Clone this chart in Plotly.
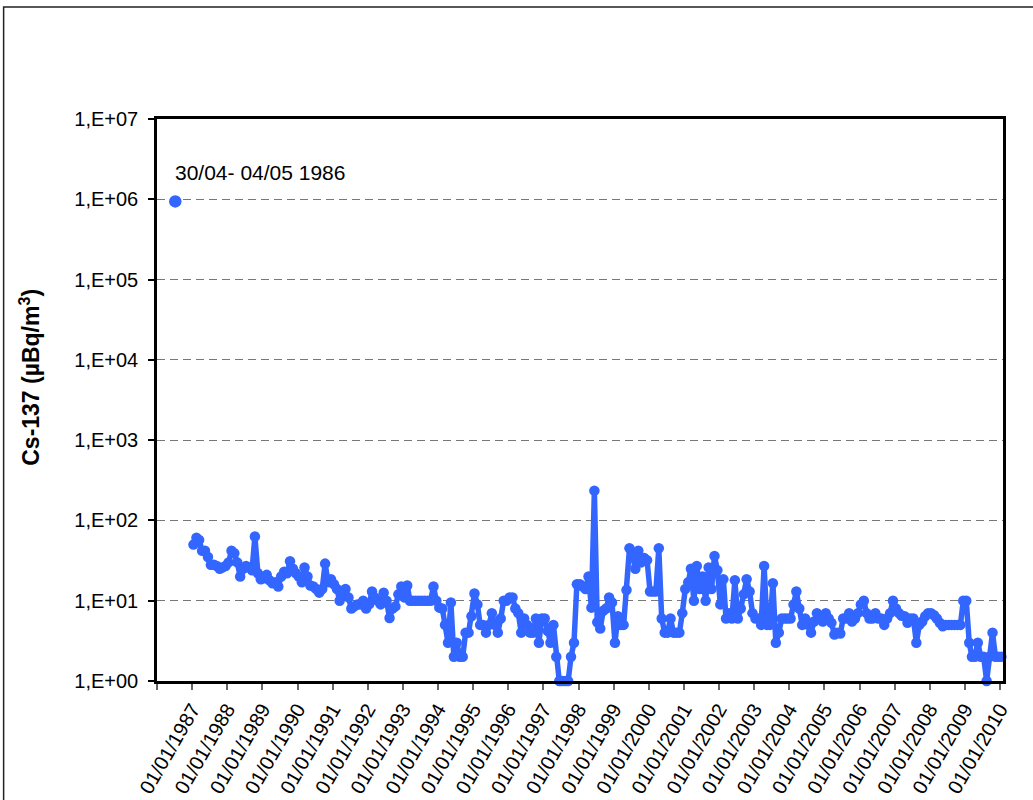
import pandas as pd
import plotly.graph_objects as go

# Monthly Cs-137 air activity (µBq/m3), January 1987 to January 2010
first_month = "1987-01-01"
cs137_monthly = [
    50, 61, 57, 42, 42, 35, 28, 28, 27, 25, 26, 27,          # 1987
    30, 42, 39, 30, 20, 25, 27, 26, 24, 63, 22, 18.5,        # 1988
    19, 21, 18, 16.5, 17, 15, 20, 23, 22, 31, 25, 22,        # 1989
    20, 17, 26, 20, 15.5, 15, 14, 12.6, 14, 29, 17, 18.5,    # 1990
    16, 14, 10, 12, 14, 11, 8, 8.5, 9, 9, 10, 8,             # 1991
    9, 13, 11, 10, 9, 12.6, 10, 6.1, 8, 8.5, 12, 15,         # 1992
    11, 15.5, 10, 10, 10, 10, 10, 10, 10, 10, 15, 10,        # 1993
    8.2, 8, 5, 3, 9.5, 2, 3, 2, 2, 4, 4, 6.4,                # 1994
    12.3, 9, 5, 5, 4, 5, 7, 5, 4, 6, 10, 10,                 # 1995
    11, 11, 8, 7, 4, 6, 5, 4, 4, 6, 3, 6,                    # 1996
    6, 4.2, 3, 5, 2, 1, 1, 1, 1, 2, 3, 16,                   # 1997
    16, 15, 14, 20, 8.2, 235, 5.4, 4.5, 7.5, 8, 11, 9.5,     # 1998
    3, 6.4, 5, 5, 13.6, 45, 38, 25, 42, 30, 34, 32,          # 1999
    13, 13, 13, 45, 6, 4, 4, 6, 4, 4, 4, 7,                  # 2000
    14, 17, 25, 10, 27, 14, 20, 10, 26, 14, 36, 24,          # 2001
    9, 18.5, 6, 7, 6, 18, 6, 8, 12, 18.5, 13, 7,             # 2002
    6, 6, 5, 27, 5, 5, 16.5, 3, 4, 6, 6, 6,                  # 2003
    6, 9, 13, 8, 5, 6, 5, 4, 5.5, 7, 6, 5.5,                 # 2004
    7, 6, 5.3, 3.8, 4, 3.9, 6, 6, 7, 5.5, 6, 7,              # 2005
    9, 10, 7, 6, 6, 7, 6, 6, 5, 6, 7, 10,                    # 2006
    8, 7, 6.5, 6.4, 5.3, 6, 6, 3, 5, 5.5, 6.4, 7,            # 2007
    7, 6.6, 6, 5.3, 4.8, 5, 5, 5, 5, 5, 5, 10,               # 2008
    10, 3, 2, 2, 3, 2, 2, 1, 2, 4, 2, 2,                     # 2009
    2,                                                       # 2010
]

# Chernobyl fallout sample
chernobyl_date = ["1986-07-10"]
chernobyl_value = [9.4e5]
chernobyl_label = "30/04- 04/05 1986"

label_years = list(range(1987, 2011))
y_tick_values = [1e0, 1e1, 1e2, 1e3, 1e4, 1e5, 1e6, 1e7]
y_tick_text = ["1,E+00", "1,E+01", "1,E+02", "1,E+03", "1,E+04", "1,E+05", "1,E+06", "1,E+07"]
y_title = "<b>Cs-137 (µBq/m<sup>3</sup>)</b>"

month_dates = pd.date_range(first_month, periods=len(cs137_monthly), freq="MS") + pd.Timedelta(days=14)

BLUE = "#3366FF"
FONT = "Liberation Sans, Arial, sans-serif"

fig = go.Figure()
fig.add_trace(go.Scatter(
    x=month_dates, y=cs137_monthly, mode="lines+markers",
    line=dict(color=BLUE, width=5.5),
    marker=dict(color=BLUE, size=10.5),
    cliponaxis=False, showlegend=False,
))
fig.add_trace(go.Scatter(
    x=chernobyl_date, y=chernobyl_value, mode="markers",
    marker=dict(color=BLUE, size=12.5),
    cliponaxis=False, showlegend=False,
))

fig.add_annotation(
    x=chernobyl_date[0], y=6.0, yref="y", xref="x",
    text=chernobyl_label, showarrow=False,
    xanchor="left", yanchor="bottom", xshift=-2, yshift=13,
    font=dict(family=FONT, size=21, color="black"),
)

# rotated axis title
fig.add_annotation(
    x=-0.151, y=0.54, xref="paper", yref="paper",
    text=y_title, textangle=-90, showarrow=False,
    xanchor="center", yanchor="middle",
    font=dict(family=FONT, size=23, color="black"),
)

fig.update_xaxes(
    type="date", range=["1986-01-01", "2010-02-01"],
    tickmode="array",
    tickvals=[f"{y}-01-01" for y in label_years],
    ticktext=[f"01/01/{y}" for y in label_years],
    tickangle=-60, ticks="outside", ticklen=6, tickwidth=1.5, tickcolor="#666",
    minor=dict(ticks="outside", tick0="1986-01-01", dtick="M12",
               ticklen=6, tickwidth=1.5, tickcolor="#666", showgrid=False),
    showline=True, linewidth=2.5, linecolor="black", mirror=True,
    showgrid=False, zeroline=False,
    tickfont=dict(family=FONT, size=20, color="black"),
)
fig.update_yaxes(
    type="log", range=[0, 7],
    tickmode="array", tickvals=y_tick_values, ticktext=y_tick_text,
    ticks="outside", ticklen=6, tickwidth=1.5, tickcolor="black",
    ticklabelstandoff=6,
    showline=True, linewidth=2.5, linecolor="black", mirror=True,
    showgrid=True, gridcolor="#777", gridwidth=1, griddash="8px,5px",
    zeroline=False,
    tickfont=dict(family=FONT, size=20, color="black"),
)

# outer chart frame
fig.add_shape(type="rect", xref="paper", yref="paper",
              x0=-0.1813, y0=-0.6, x1=1.2, y1=1.1993,
              line=dict(color="#222", width=1.5), layer="below")

fig.update_layout(
    width=1033, height=800,
    margin=dict(l=157, r=30, t=119, b=119, autoexpand=False),
    paper_bgcolor="white", plot_bgcolor="white",
    font=dict(family=FONT),
)

fig.write_html("out.html")
